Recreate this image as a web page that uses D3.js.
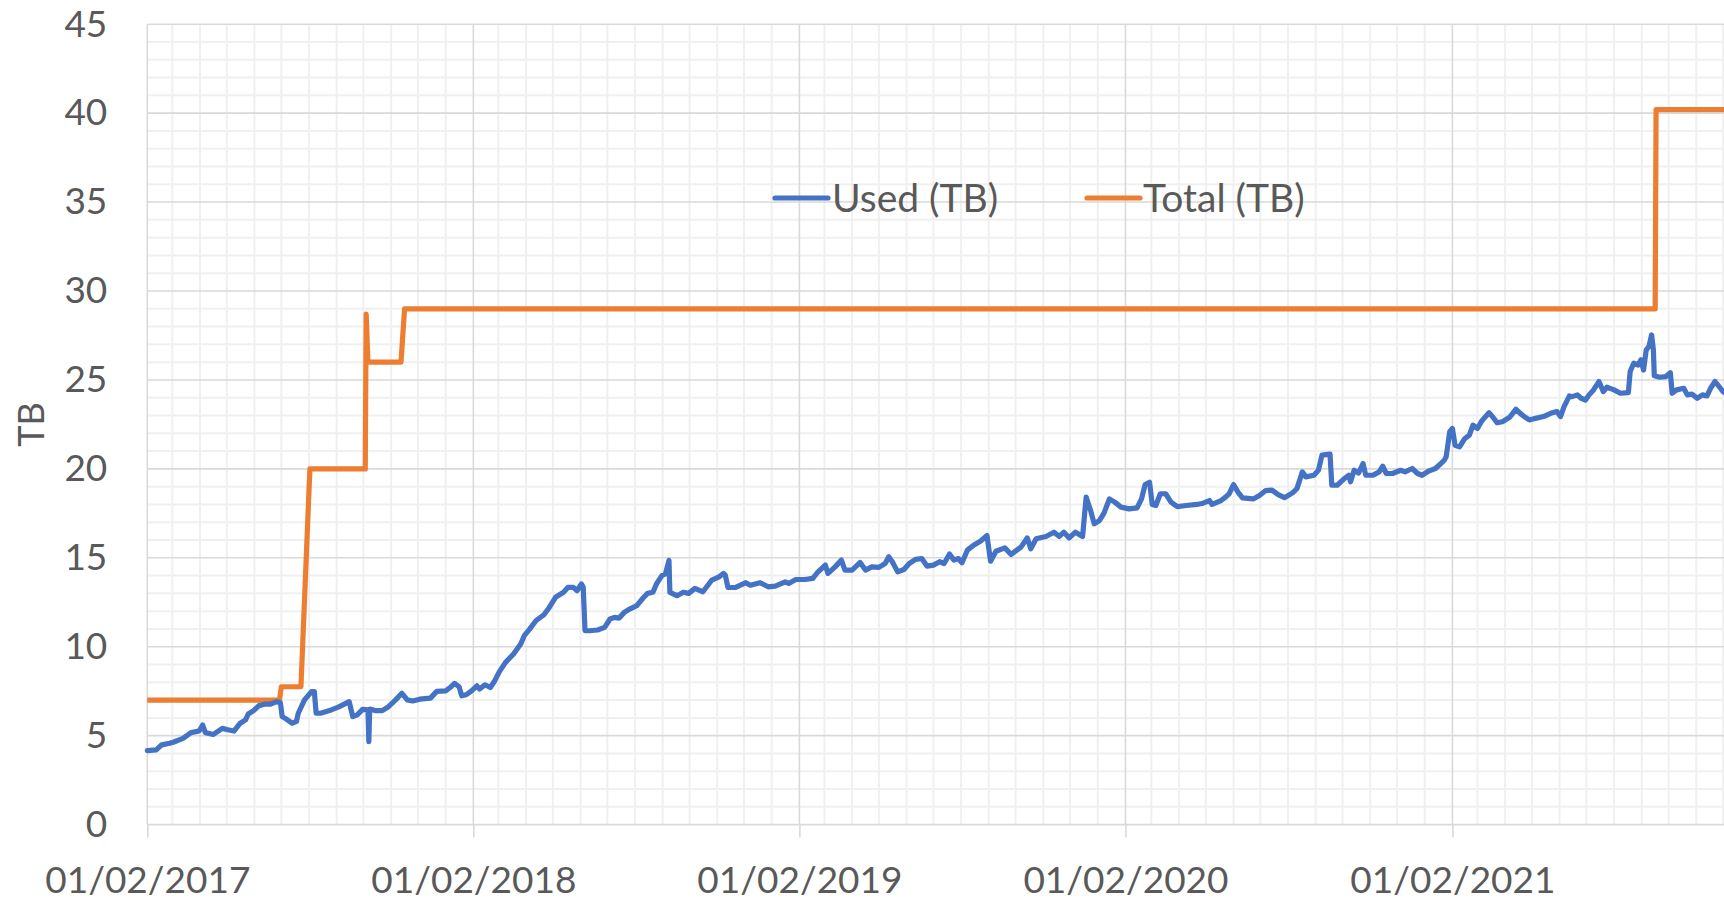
<!DOCTYPE html>
<html>
<head>
<meta charset="utf-8">
<script src="https://cdn.jsdelivr.net/npm/d3@7"></script>
<style>
  html, body { margin: 0; padding: 0; background: #fff; }
  svg { display: block; font-family: Lato, "Open Sans", sans-serif; }
</style>
</head>
<body>
<svg id="chart" width="1724" height="904"></svg>
<script>
// ---------------- DATA ----------------
const usedDates = [
"2017-02-01","2017-02-11","2017-02-17","2017-02-26","2017-03-02","2017-03-13","2017-03-22","2017-03-31","2017-04-04","2017-04-07",
"2017-04-16","2017-04-26","2017-05-02","2017-05-09","2017-05-16","2017-05-22","2017-05-25","2017-05-31","2017-06-06","2017-06-13",
"2017-06-19","2017-06-26","2017-06-30","2017-07-02","2017-07-07","2017-07-13","2017-07-18","2017-07-20","2017-07-27","2017-08-04",
"2017-08-07","2017-08-09","2017-08-14","2017-08-24","2017-09-04","2017-09-15","2017-09-19","2017-09-24","2017-09-30","2017-10-06",
"2017-10-07","2017-10-08","2017-10-14","2017-10-22","2017-10-29","2017-11-06","2017-11-13","2017-11-19","2017-11-25","2017-12-03",
"2017-12-15","2017-12-22","2018-01-01","2018-01-06","2018-01-11","2018-01-16","2018-01-19","2018-01-24","2018-01-30","2018-02-05",
"2018-02-08","2018-02-14","2018-02-20","2018-02-25","2018-03-02","2018-03-09","2018-03-18","2018-03-26","2018-03-30","2018-04-05",
"2018-04-12","2018-04-21","2018-04-27","2018-05-04","2018-05-13","2018-05-18","2018-05-24","2018-05-28","2018-06-02","2018-06-04",
"2018-06-06","2018-06-11","2018-06-20","2018-06-28","2018-07-04","2018-07-09","2018-07-14","2018-07-20","2018-07-26","2018-08-03",
"2018-08-10","2018-08-15","2018-08-21","2018-08-25","2018-08-31","2018-09-04","2018-09-08","2018-09-09","2018-09-17","2018-09-24",
"2018-09-30","2018-10-07","2018-10-16","2018-10-26","2018-11-03","2018-11-08","2018-11-10","2018-11-13","2018-11-21","2018-12-03",
"2018-12-08","2018-12-19","2018-12-28","2019-01-05","2019-01-16","2019-01-20","2019-01-28","2019-02-07","2019-02-16","2019-02-21",
"2019-03-02","2019-03-05","2019-03-13","2019-03-20","2019-03-24","2019-04-01","2019-04-10","2019-04-16","2019-04-23","2019-05-01",
"2019-05-08","2019-05-12","2019-05-16","2019-05-22","2019-05-29","2019-06-04","2019-06-11","2019-06-18","2019-06-24","2019-07-01",
"2019-07-08","2019-07-13","2019-07-19","2019-07-24","2019-07-29","2019-08-02","2019-08-08","2019-08-15","2019-08-23","2019-08-30",
"2019-09-03","2019-09-09","2019-09-19","2019-09-26","2019-10-07","2019-10-14","2019-10-18","2019-10-24","2019-11-04","2019-11-13",
"2019-11-19","2019-11-24","2019-11-30","2019-12-07","2019-12-15","2019-12-19","2019-12-24","2019-12-28","2020-01-03","2020-01-08",
"2020-01-14","2020-01-20","2020-01-27","2020-02-05","2020-02-14","2020-02-19","2020-02-23","2020-02-28","2020-03-02","2020-03-06",
"2020-03-11","2020-03-17","2020-03-23","2020-03-30","2020-04-09","2020-04-21","2020-04-28","2020-05-05","2020-05-08","2020-05-18",
"2020-05-23","2020-05-27","2020-06-01","2020-06-06","2020-06-11","2020-06-23","2020-06-30","2020-07-07","2020-07-14","2020-07-21",
"2020-07-28","2020-08-06","2020-08-11","2020-08-17","2020-08-21","2020-08-30","2020-09-04","2020-09-08","2020-09-17","2020-09-19",
"2020-09-25","2020-10-03","2020-10-08","2020-10-10","2020-10-14","2020-10-19","2020-10-24","2020-10-27","2020-11-04","2020-11-11",
"2020-11-15","2020-11-19","2020-11-26","2020-12-05","2020-12-10","2020-12-18","2020-12-24","2020-12-29","2021-01-06","2021-01-13",
"2021-01-19","2021-01-23","2021-01-25","2021-01-29","2021-02-01","2021-02-04","2021-02-09","2021-02-15","2021-02-20","2021-02-24",
"2021-03-01","2021-03-06","2021-03-14","2021-03-18","2021-03-23","2021-03-29","2021-04-06","2021-04-13","2021-04-20","2021-04-28",
"2021-05-05","2021-05-14","2021-05-22","2021-05-29","2021-06-02","2021-06-06","2021-06-12","2021-06-15","2021-06-21","2021-06-25",
"2021-06-30","2021-07-04","2021-07-09","2021-07-15","2021-07-20","2021-07-24","2021-08-01","2021-08-08","2021-08-17","2021-08-19",
"2021-08-23","2021-08-28","2021-08-31","2021-09-03","2021-09-06","2021-09-09","2021-09-12","2021-09-14","2021-09-15","2021-09-21",
"2021-09-28","2021-10-03","2021-10-05","2021-10-10","2021-10-18","2021-10-22","2021-10-27","2021-11-02","2021-11-08","2021-11-13",
"2021-11-17","2021-11-22","2021-11-26","2021-12-01","2021-12-06"
];
const usedValues = [
4.16,4.20,4.48,4.57,4.63,4.85,5.17,5.26,5.60,5.17,
5.07,5.41,5.33,5.26,5.70,5.89,6.22,6.41,6.69,6.78,
6.77,6.91,6.85,6.07,5.92,5.70,5.80,6.26,7.01,7.48,
7.48,6.26,6.26,6.41,6.63,6.91,6.07,6.17,6.48,6.45,
4.66,6.50,6.41,6.41,6.63,7.01,7.38,7.01,6.95,7.05,
7.11,7.49,7.52,7.71,7.94,7.75,7.24,7.30,7.52,7.80,
7.62,7.86,7.71,8.09,8.59,9.12,9.59,10.15,10.62,10.99,
11.46,11.80,12.21,12.78,13.06,13.34,13.34,13.15,13.53,13.34,
10.90,10.90,10.94,11.09,11.56,11.65,11.61,11.93,12.12,12.31,
12.74,13.00,13.06,13.53,14.00,14.09,14.85,13.06,12.87,13.06,
13.00,13.28,13.09,13.75,13.93,14.12,14.03,13.33,13.33,13.60,
13.46,13.60,13.37,13.41,13.65,13.56,13.78,13.78,13.84,14.16,
14.59,14.12,14.49,14.87,14.31,14.31,14.74,14.31,14.49,14.46,
14.68,15.06,14.78,14.21,14.34,14.68,14.91,14.96,14.53,14.59,
14.78,14.68,15.21,14.87,14.96,14.72,15.43,15.71,15.95,16.25,
14.81,15.37,15.56,15.19,15.60,16.12,15.51,16.07,16.20,16.44,
16.20,16.44,16.12,16.44,16.20,18.41,17.66,16.91,17.10,17.51,
18.31,18.13,17.85,17.75,17.81,18.31,19.12,19.25,18.00,17.94,
18.60,18.60,18.13,17.88,17.94,18.00,18.07,18.22,18.00,18.22,
18.41,18.60,19.12,18.69,18.37,18.31,18.50,18.78,18.80,18.55,
18.38,18.65,18.89,19.83,19.55,19.64,19.92,20.77,20.83,19.08,
19.08,19.45,19.64,19.27,19.92,19.77,20.30,19.64,19.64,19.83,
20.15,19.74,19.74,19.92,19.83,20.02,19.74,19.64,19.89,20.02,
20.30,20.49,20.68,22.09,22.27,21.33,21.24,21.71,21.90,22.46,
22.27,22.71,23.16,22.93,22.59,22.65,22.90,23.35,23.03,22.75,
22.84,22.94,23.12,23.22,22.94,23.50,24.10,24.06,24.16,23.97,
23.87,24.16,24.44,24.91,24.34,24.59,24.44,24.25,24.29,25.47,
25.94,25.84,26.13,25.56,26.69,26.88,27.53,26.69,25.23,25.15,
25.19,25.41,24.25,24.44,24.53,24.16,24.21,23.97,24.16,24.10,
24.53,24.91,24.66,24.34,24.20
];

const totalDates = [
"2017-02-01","2017-06-29","2017-07-01","2017-07-23","2017-08-02","2017-10-03","2017-10-04","2017-10-06",
"2017-11-12","2017-11-16","2021-09-16","2021-09-17","2021-12-06"
];
const totalValues = [
7.0,7.0,7.75,7.75,20.0,20.0,28.7,26.0,
26.0,29.0,29.0,40.2,40.2
];

const yTicks = [0,5,10,15,20,25,30,35,40,45];
const xTickDates = ["2017-02-01","2018-02-01","2019-02-01","2020-02-01","2021-02-01"];
const seriesNames = ["Used (TB)", "Total (TB)"];
const seriesColors = ["#4472C4", "#ED7D31"];
const yTitle = "TB";

// ---------------- CHART ----------------
(function () {
const parse = d3.utcParse("%Y-%m-%d");
const fmt = d3.utcFormat("%d/%m/%Y");
const svg = d3.select("#chart");
const W = 1724;
const pLeft = 147.3, pTop = 24.2, pBottom = 824.6;

const x = d3.scaleUtc()
  .domain([parse("2017-02-01"), parse("2021-02-01")])
  .range([pLeft, 1452.4]);
const xEnd = x.invert(W + 5);
const y = d3.scaleLinear().domain([0, 45]).range([pBottom, pTop]);

const textColor = "#595959";
const fontSize = 37;
const ff = "Lato, 'Open Sans', sans-serif";
const lw = 5.2;

const grid = svg.append("g");
grid.selectAll("line.hmin")
  .data(d3.range(0, 46).filter(v => v % 5 !== 0))
  .join("line")
  .attr("x1", pLeft).attr("x2", W + 5)
  .attr("y1", d => y(d)).attr("y2", d => y(d))
  .attr("stroke", "#f0f0f0").attr("stroke-width", 2);
const months = d3.utcMonth.range(parse("2017-02-01"), xEnd).filter(d => d.getUTCMonth() !== 1);
grid.selectAll("line.vmin")
  .data(months)
  .join("line")
  .attr("x1", d => x(d)).attr("x2", d => x(d))
  .attr("y1", pTop).attr("y2", pBottom)
  .attr("stroke", "#f0f0f0").attr("stroke-width", 2);
grid.selectAll("line.hmaj")
  .data(yTicks.filter(v => v > 0))
  .join("line")
  .attr("x1", pLeft).attr("x2", W + 5)
  .attr("y1", d => y(d)).attr("y2", d => y(d))
  .attr("stroke", "#d9d9d9").attr("stroke-width", 1.6);
const majors = d3.utcMonth.range(parse("2017-02-01"), xEnd).filter(d => d.getUTCMonth() === 1);
grid.selectAll("line.vmaj")
  .data(majors)
  .join("line")
  .attr("x1", d => x(d)).attr("x2", d => x(d))
  .attr("y1", pTop).attr("y2", pBottom)
  .attr("stroke", "#d9d9d9").attr("stroke-width", 1.6);
grid.append("line")
  .attr("x1", pLeft).attr("x2", W + 5)
  .attr("y1", pBottom).attr("y2", pBottom)
  .attr("stroke", "#d9d9d9").attr("stroke-width", 1.8);

const yAxis = svg.append("g")
  .attr("transform", `translate(${pLeft - 40},0)`)
  .call(d3.axisLeft(y).tickValues(yTicks).tickSize(0).tickPadding(0).tickFormat(d3.format("d")));
yAxis.select(".domain").remove();
yAxis.selectAll("text")
  .attr("fill", textColor)
  .attr("font-size", fontSize)
  .attr("font-family", ff);

const xAxis = svg.append("g")
  .attr("transform", `translate(0,${pBottom})`)
  .call(d3.axisBottom(x).tickValues(xTickDates.map(parse)).tickSize(13).tickPadding(29).tickFormat(fmt));
xAxis.select(".domain").remove();
xAxis.selectAll("line").attr("stroke", "#d9d9d9").attr("stroke-width", 1.6);
xAxis.selectAll("text")
  .attr("fill", textColor)
  .attr("font-size", fontSize)
  .attr("font-family", ff);

svg.append("text")
  .attr("transform", `translate(44,${(pTop + pBottom) / 2}) rotate(-90)`)
  .attr("text-anchor", "middle")
  .attr("fill", textColor)
  .attr("font-size", fontSize - 1)
  .attr("font-family", ff)
  .text(yTitle);

const line = d3.line()
  .x(d => x(d[0]))
  .y(d => y(d[1]));

const totalData = totalDates.map((d, i) => [parse(d), totalValues[i]]);
const usedData = usedDates.map((d, i) => [parse(d), usedValues[i]]);

svg.append("path")
  .datum(totalData)
  .attr("d", line)
  .attr("fill", "none")
  .attr("stroke", seriesColors[1])
  .attr("stroke-width", lw)
  .attr("stroke-linejoin", "round");

svg.append("path")
  .datum(usedData)
  .attr("d", line)
  .attr("fill", "none")
  .attr("stroke", seriesColors[0])
  .attr("stroke-width", lw)
  .attr("stroke-linejoin", "round")
  .attr("stroke-linecap", "round");

const legendItems = [
  { name: seriesNames[0], color: seriesColors[0], x0: 775, x1: 828, tx: 832 },
  { name: seriesNames[1], color: seriesColors[1], x0: 1087, x1: 1140, tx: 1143 }
];
const lg = svg.append("g");
const legendY = 198;
legendItems.forEach(it => {
  lg.append("line")
    .attr("x1", it.x0).attr("x2", it.x1)
    .attr("y1", legendY).attr("y2", legendY)
    .attr("stroke", it.color).attr("stroke-width", lw)
    .attr("stroke-linecap", "round");
  lg.append("text")
    .attr("x", it.tx).attr("y", legendY)
    .attr("dy", "0.35em")
    .attr("fill", textColor)
    .attr("font-size", 39)
    .attr("font-family", ff)
    .text(it.name);
});
})();
</script>
</body>
</html>
